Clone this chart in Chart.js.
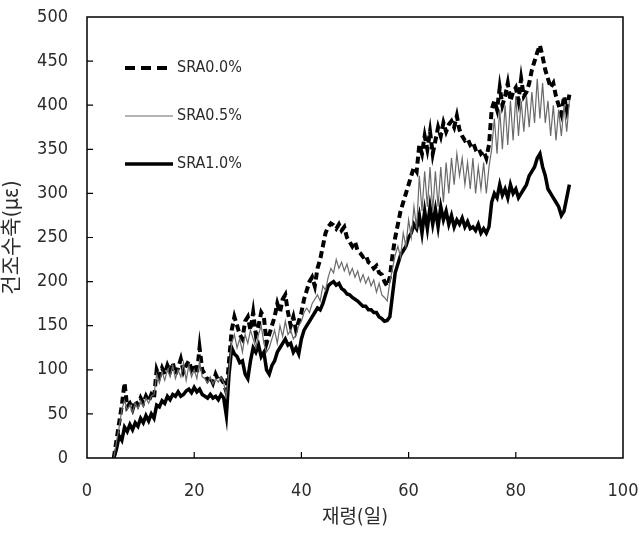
<!DOCTYPE html>
<html>
<head>
<meta charset="utf-8">
<script src="https://cdn.jsdelivr.net/npm/chart.js@4.4.0/dist/chart.umd.min.js"></script>
<style>
html,body{margin:0;padding:0;background:#fff;}
#wrap{width:639px;height:535px;position:relative;}
</style>
</head>
<body>
<div id="wrap"><canvas id="c" width="639" height="535"></canvas></div>
<script>
// ---- data ----
const days = [];
for (let d = 5; d <= 90.001; d += 0.5) days.push(Math.round(d * 10) / 10);

const sra00 = [
0,20, 40,60, 85,58, 62,55, 65,60, 68,62, 70,64, 72,68, 100,92, 102,95,
105,98, 108,95, 102,112, 98,105, 110,100, 105,95, 125,100, 95,88, 92,85, 95,88,
90,85, 75,110, 145,160, 150,140, 135,155, 160,145, 165,140, 150,165, 160,130, 140,150,
160,175, 165,180, 185,165, 150,160, 145,155, 165,180, 190,200, 205,195, 215,225, 240,255,
262,266, 264,260, 265,258, 262,250, 245,240, 245,235, 232,228, 230,222, 220,215, 218,210,
208,200, 195,205, 230,250, 265,280, 290,300, 310,320, 330,325, 355,345, 365,350, 370,345,
360,375, 365,380, 370,378, 382,375, 388,372, 365,360, 362,355, 358,350, 352,345, 348,340,
355,395, 405,395, 420,400, 410,425, 405,415, 420,405, 430,410, 415,425, 440,450, 460,468,
455,440, 430,420, 425,410, 400,390, 410,395, 412
];

const sra05 = [
0,18, 35,55, 65,55, 60,52, 62,56, 65,58, 68,62, 70,72, 95,85, 98,88,
100,92, 105,90, 100,92, 108,88, 105,92, 100,90, 110,92, 90,85, 92,84, 90,86,
92,85, 70,100, 130,140, 125,135, 120,140, 130,145, 135,125, 140,150, 130,120, 125,135,
145,130, 150,138, 155,140, 145,135, 140,150, 155,165, 170,165, 175,180, 185,178, 195,190,
205,215, 210,225, 215,222, 212,220, 208,215, 205,212, 200,208, 198,205, 195,202, 188,198,
185,182, 178,200, 215,230, 240,228, 255,240, 270,250, 285,260, 320,280, 325,285, 330,280,
325,285, 330,290, 335,300, 340,310, 345,320, 340,310, 335,305, 340,300, 330,305, 335,300,
330,350, 385,345, 395,350, 400,355, 405,360, 410,365, 405,370, 410,375, 415,380, 430,385,
425,380, 405,365, 400,360, 395,365, 400,370, 405
];

const sra10 = [
0,10, 25,20, 35,30, 38,32, 40,36, 45,40, 48,42, 50,45, 60,58, 65,62,
70,66, 72,70, 75,70, 72,76, 78,74, 80,75, 78,72, 70,68, 72,68, 70,66,
72,68, 48,95, 125,118, 115,108, 110,95, 90,110, 125,120, 128,115, 120,100, 95,105,
110,120, 125,130, 135,128, 130,120, 125,118, 135,145, 150,155, 160,165, 170,168, 175,185,
195,198, 200,196, 198,192, 190,186, 185,182, 180,178, 175,172, 172,168, 168,165, 165,160,
158,155, 156,160, 185,210, 220,230, 235,240, 250,255, 265,260, 275,255, 280,260, 285,265,
282,262, 285,270, 280,265, 275,262, 270,265, 272,262, 268,260, 262,258, 265,255, 260,255,
262,290, 300,295, 310,298, 305,295, 310,300, 305,295, 300,305, 310,320, 325,330, 340,345,
330,320, 305,300, 295,290, 285,275, 280,295, 310
];

const seriesNames = ['SRA0.0%', 'SRA0.5%', 'SRA1.0%'];
const xTicks = [0, 20, 40, 60, 80, 100];
const yTicks = [0, 50, 100, 150, 200, 250, 300, 350, 400, 450, 500];
const xTitle = '재령(일)';
const yTitle = '건조수축(με)';

const toXY = arr => arr.map((v, i) => ({ x: days[i], y: v }));

const FONT = "'DejaVu Sans Condensed','Liberation Sans Narrow','Noto Sans CJK KR',sans-serif";
const TXT = '#2b2b2b';

const frameAndTicks = {
  id: 'frameAndTicks',
  afterDraw(chart) {
    const { ctx, chartArea: a, scales } = chart;
    ctx.save();
    ctx.strokeStyle = '#000';
    ctx.lineWidth = 1.5;
    ctx.strokeRect(a.left, a.top, a.right - a.left, a.bottom - a.top);
    ctx.lineWidth = 1.2;
    ctx.beginPath();
    xTicks.forEach(t => {
      const px = scales.x.getPixelForValue(t);
      if (t > 0 && t < 100) { ctx.moveTo(px, a.bottom); ctx.lineTo(px, a.bottom - 6); }
    });
    yTicks.forEach(t => {
      const py = scales.y.getPixelForValue(t);
      if (t > 0 && t < 500) { ctx.moveTo(a.left, py); ctx.lineTo(a.left + 6, py); }
    });
    ctx.stroke();
    ctx.restore();
  }
};

const customLegend = {
  id: 'customLegend',
  afterDraw(chart) {
    const { ctx, chartArea: a } = chart;
    ctx.save();
    ctx.font = "16px " + FONT;
    ctx.textBaseline = 'middle';
    ctx.fillStyle = TXT;
    seriesNames.forEach((name, i) => {
      const ds = chart.data.datasets.find(d => d.label === name);
      const y = a.top + 51 + i * 48;
      const x0 = a.left + 38, x1 = a.left + 86;
      ctx.beginPath();
      ctx.strokeStyle = ds.borderColor;
      ctx.lineWidth = ds.borderWidth;
      ctx.setLineDash(ds.borderDash ? [10, 6] : []);
      ctx.moveTo(x0, y); ctx.lineTo(x1, y);
      ctx.stroke();
      ctx.setLineDash([]);
      ctx.fillText(ds.label, x1 + 4, y);
    });
    ctx.restore();
  }
};

new Chart(document.getElementById('c'), {
  type: 'line',
  data: {
    datasets: [
      { label: seriesNames[0], data: toXY(sra00), borderColor: '#000', borderWidth: 4, borderDash: [7, 4], pointRadius: 0, tension: 0, order: 3 },
      { label: seriesNames[2], data: toXY(sra10), borderColor: '#000', borderWidth: 3.5, pointRadius: 0, tension: 0, order: 2 },
      { label: seriesNames[1], data: toXY(sra05), borderColor: '#6a6a6a', borderWidth: 1.2, pointRadius: 0, tension: 0, order: 1 }
    ]
  },
  options: {
    responsive: false,
    animation: false,
    events: [],
    layout: { padding: { left: 0, top: 17, right: 16, bottom: 0 } },
    plugins: { legend: { display: false }, tooltip: { enabled: false } },
    scales: {
      x: {
        type: 'linear', min: 0, max: 100,
        afterFit(s) { s.height = 77; s.paddingLeft = 0; s.paddingRight = 0; },
        afterBuildTicks(s) { s.ticks = xTicks.map(v => ({ value: v })); },
        grid: { display: false, drawTicks: false },
        border: { display: false },
        ticks: { padding: 23, color: TXT, font: { size: 18, family: FONT }, maxRotation: 0 },
        title: { display: true, text: xTitle, color: TXT, font: { size: 19, family: FONT }, padding: { top: 0, bottom: 6 } }
      },
      y: {
        type: 'linear', min: 0, max: 500,
        afterFit(s) { s.width = 87; s.paddingTop = 0; s.paddingBottom = 0; },
        afterBuildTicks(s) { s.ticks = yTicks.map(v => ({ value: v })); },
        grid: { display: false, drawTicks: false },
        border: { display: false },
        ticks: { padding: 19, color: TXT, font: { size: 18, family: FONT } },
        title: { display: true, text: yTitle, color: TXT, font: { size: 21, family: FONT }, padding: { top: 0, bottom: 0 } }
      }
    }
  },
  plugins: [frameAndTicks, customLegend]
});
</script>
</body>
</html>
